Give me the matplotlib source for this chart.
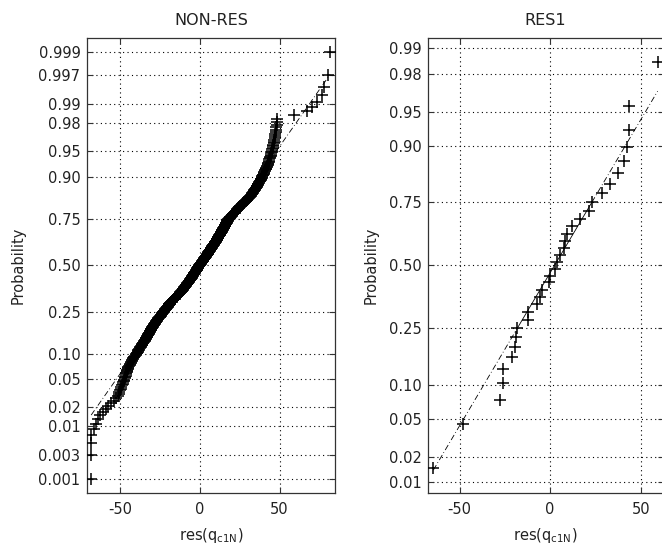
import numpy as np
import matplotlib
matplotlib.use("Agg")
import matplotlib.pyplot as plt
from statistics import NormalDist

# ---------------- data (sorted residuals) ----------------
titles = ["NON-RES", "RES1"]

nonres_values = [
    -68.4, -68.4, -68.3, -68.2, -66.4, -65.3, -64.3, -63.1, -61.1, -59.0,
    -57.8, -55.9, -54.0, -52.8, -51.5, -51.0, -50.6, -50.2,
    -49.8, -49.4, -49.0, -48.6, -48.2, -47.9, -47.5,
    -47.3, -47.0, -46.8, -46.6, -46.4, -46.1, -45.9, -45.7, -45.5, -45.2, -45.0,
    -44.7, -44.3, -44.0, -43.6, -43.3, -42.9, -42.6, -42.2, -41.9, -41.5, -41.2, -40.8, -40.5, -40.1, -39.8,
    -39.5, -39.2, -39.0, -38.7, -38.4, -38.1, -37.8, -37.6, -37.3, -37.0, -36.7, -36.4, -36.2, -35.9, -35.6,
    -35.3, -35.0, -34.8, -34.5,
    -34.3, -34.1, -33.9, -33.7, -33.5, -33.3, -33.1, -32.9, -32.7, -32.5, -32.3, -32.1, -31.9, -31.7, -31.5,
    -31.3, -31.1, -30.9, -30.7, -30.5, -30.3, -30.1, -29.9, -29.7, -29.5, -29.3, -29.1, -28.9, -28.7, -28.5, -28.3,
    -28.1, -27.9, -27.6, -27.4, -27.2, -27.0, -26.8, -26.5, -26.3, -26.1, -25.9, -25.7, -25.4, -25.2, -25.0,
    -24.8, -24.5, -24.3, -24.1, -23.9, -23.7, -23.4, -23.2, -23.0,
    -22.8, -22.6, -22.4, -22.2, -22.0, -21.8, -21.6, -21.4, -21.2, -21.0, -20.8, -20.6, -20.4, -20.2, -20.0,
    -19.8, -19.6, -19.4, -19.2, -19.0, -18.8,
    -18.6, -18.3, -18.1, -17.8, -17.6, -17.4, -17.1, -16.9, -16.7, -16.4, -16.2, -16.0, -15.7, -15.5, -15.2,
    -15.0, -14.8, -14.5, -14.3, -14.1, -13.8, -13.6, -13.3, -13.1, -12.9, -12.6,
    -12.4, -12.3, -12.1, -11.9, -11.7, -11.6, -11.4, -11.2, -11.0, -10.9, -10.7, -10.5, -10.3, -10.2, -10.0,
    -9.8, -9.6, -9.5, -9.3, -9.1, -8.9, -8.8, -8.6, -8.4, -8.2, -8.1, -7.9, -7.7, -7.5, -7.4,
    -7.2, -7.0, -6.8, -6.7, -6.5, -6.3,
    -6.2, -6.0, -5.9, -5.7, -5.6, -5.5, -5.3, -5.2, -5.0, -4.9, -4.8, -4.6, -4.5, -4.3, -4.2,
    -4.1, -3.9, -3.8, -3.6, -3.5, -3.4, -3.2, -3.1, -2.9, -2.8, -2.7, -2.5, -2.4, -2.2, -2.1,
    -2.0, -1.8, -1.7, -1.5, -1.4, -1.3, -1.1, -1.0, -0.8, -0.7, -0.6, -0.5,
    -0.3, -0.2, 0.0, 0.2, 0.3, 0.5, 0.7, 0.8, 1.0, 1.1, 1.3, 1.5, 1.6, 1.8, 1.9, 2.1,
    2.3, 2.4, 2.6, 2.7, 2.9, 3.0, 3.2, 3.3, 3.5, 3.6, 3.8, 3.9, 4.1, 4.2, 4.4, 4.5, 4.7, 4.8, 5.0, 5.1,
    5.3, 5.4, 5.6, 5.7, 5.9, 6.0, 6.2, 6.3, 6.5, 6.6, 6.8, 6.9, 7.1, 7.2, 7.4, 7.5, 7.7, 7.8, 8.0, 8.1,
    8.3, 8.4, 8.6, 8.7, 8.9, 9.0, 9.2, 9.3, 9.5, 9.6, 9.8, 9.9, 10.1, 10.2, 10.4, 10.5,
    10.6, 10.8, 10.9, 11.1, 11.2, 11.3, 11.5, 11.6, 11.8, 11.9, 12.0, 12.2, 12.3, 12.5, 12.6,
    12.7, 12.9, 13.0, 13.2, 13.3, 13.4, 13.6, 13.7, 13.9, 14.0, 14.1, 14.3, 14.4, 14.6, 14.7,
    14.8, 15.0, 15.1, 15.3, 15.4, 15.5, 15.7, 15.8, 16.0, 16.1, 16.2, 16.4, 16.5, 16.7, 16.8,
    16.9, 17.1, 17.2, 17.4, 17.5, 17.6, 17.8,
    18.1, 18.3, 18.6, 18.8, 19.1, 19.4, 19.6, 19.9, 20.1, 20.4, 20.6, 20.9, 21.2, 21.4, 21.7,
    21.9, 22.2, 22.4, 22.7, 23.0, 23.2, 23.5, 23.7, 24.0, 24.2, 24.5, 24.7, 25.0,
    25.4, 25.7, 26.1, 26.4, 26.8, 27.1, 27.5, 27.8, 28.2, 28.6, 28.9, 29.3, 29.6, 30.0, 30.3,
    30.7, 31.0, 31.4,
    31.7, 31.9, 32.2, 32.4, 32.7, 32.9, 33.2, 33.4, 33.7, 33.9, 34.2, 34.5, 34.7, 35.0, 35.2,
    35.5, 35.7, 36.0, 36.2, 36.5, 36.7, 37.0, 37.2, 37.5, 37.7, 38.0, 38.2, 38.5, 38.7, 39.0,
    39.2, 39.5, 39.7, 40.0, 40.2, 40.4, 40.7, 40.9, 41.2, 41.4, 41.6, 41.9, 42.1, 42.4, 42.6,
    42.8, 43.1, 43.3, 43.6, 43.8, 44.0, 44.3, 44.5, 44.8, 45.0,
    45.2, 45.4, 45.6, 45.8, 46.1, 46.3, 46.5, 46.7, 46.9, 47.2, 47.4, 47.6, 47.8, 48.0, 48.2,
    48.4, 48.6,
    59.2, 67.5, 70.2, 73.5, 76.8, 78.1, 80.6, 81.7,
]

res1_values = [
    -64.5, -47.9, -27.8, -26.0, -26.0, -21.2, -19.3, -18.8, -18.1, -12.3,
    -12.0, -7.3, -5.5, -4.4, -0.9, 0.0, 2.8, 3.7, 5.5, 7.4,
    8.3, 9.2, 11.9, 16.6, 21.2, 23.0, 28.5, 32.8, 37.2, 40.9,
    42.4, 43.3, 43.6, 59.3,
]

nonres_prob_ticks = [0.001, 0.003, 0.01, 0.02, 0.05, 0.10, 0.25, 0.50,
                     0.75, 0.90, 0.95, 0.98, 0.99, 0.997, 0.999]
nonres_prob_labels = ["0.001", "0.003", "0.01", "0.02", "0.05", "0.10", "0.25", "0.50",
                      "0.75", "0.90", "0.95", "0.98", "0.99", "0.997", "0.999"]
res1_prob_ticks = [0.01, 0.02, 0.05, 0.10, 0.25, 0.50, 0.75, 0.90, 0.95, 0.98, 0.99]
res1_prob_labels = ["0.01", "0.02", "0.05", "0.10", "0.25", "0.50", "0.75",
                    "0.90", "0.95", "0.98", "0.99"]
x_ticks = [-50, 0, 50]
x_tick_labels = ["-50", "0", "50"]
x_label = "res(q$_{\\mathrm{c1N}}$)"
y_label = "Probability"

# ---------------- figure ----------------
plt.rcParams["font.family"] = ["DejaVu Sans"]
plt.rcParams["mathtext.fontset"] = "dejavusans"
TXT = "#222222"
FS = 10.5

W, H = 662, 548
fig = plt.figure(figsize=(W / 100, H / 100), dpi=100)
fig.patch.set_facecolor("white")

nd = NormalDist()


def fpos(x0, x1, y0, y1):
    return [x0 / W, (H - y1) / H, (x1 - x0) / W, (y1 - y0) / H]


panels = [
    dict(vals=nonres_values, ticks=nonres_prob_ticks, labels=nonres_prob_labels,
         pos=fpos(86.7, 335.0, 37.7, 492.7), xlim=(-71.2, 84.8), ylabelpad=9.0),
    dict(vals=res1_values, ticks=res1_prob_ticks, labels=res1_prob_labels,
         pos=fpos(427.7, 663.6, 37.7, 492.7), xlim=(-67.6, 62.6), ylabelpad=7.0),
]

for title, p in zip(titles, panels):
    ax = fig.add_axes(p["pos"])
    x = np.sort(np.asarray(p["vals"], dtype=float))
    n = len(x)
    z = np.array([nd.inv_cdf((i - 0.5) / n) for i in range(1, n + 1)])

    # reference line through the quartiles (MATLAB normplot style)
    q1, q3 = np.percentile(x, [25, 75], method="hazen")
    z1, z3 = nd.inv_cdf(0.25), nd.inv_cdf(0.75)
    slope = (z3 - z1) / (q3 - q1)

    def zline(v):
        return z1 + slope * (np.asarray(v) - q1)

    ax.plot([q1, q3], zline([q1, q3]), "-", color="k", lw=0.6, zorder=2)
    ax.plot([x.min(), q1], zline([x.min(), q1]), color="k", lw=0.6,
            linestyle=(0, (7, 3, 1, 3)), zorder=2)
    ax.plot([q3, x.max()], zline([q3, x.max()]), color="k", lw=0.6,
            linestyle=(0, (7, 3, 1, 3)), zorder=2)

    ax.plot(x, z, linestyle="none", marker="+", color="k", ms=8.6, mew=1.1, zorder=3)

    zlim = nd.inv_cdf(0.25 / n)
    ax.set_ylim(zlim, -zlim)
    ax.set_xlim(*p["xlim"])

    ax.set_yticks([nd.inv_cdf(t) for t in p["ticks"]])
    ax.set_yticklabels(p["labels"])
    ax.set_xticks(x_ticks)
    ax.set_xticklabels(x_tick_labels)

    ax.grid(True, color="k", linestyle=(0, (1, 3)), linewidth=0.8)
    ax.set_axisbelow(True)
    ax.tick_params(direction="in", top=True, right=True, length=4, width=0.8,
                   labelsize=FS, labelcolor=TXT, color="#333333")
    ax.tick_params(axis="x", pad=7)
    ax.tick_params(axis="y", pad=4.5)
    for s in ax.spines.values():
        s.set_color("#333333")
        s.set_linewidth(0.9)

    ax.set_title(title, fontsize=11.5, color=TXT, pad=9)
    ax.set_xlabel(x_label, fontsize=FS, color=TXT, labelpad=6)
    ax.set_ylabel(y_label, fontsize=FS, color=TXT, labelpad=p["ylabelpad"])

fig.savefig("out.png", dpi=100)
